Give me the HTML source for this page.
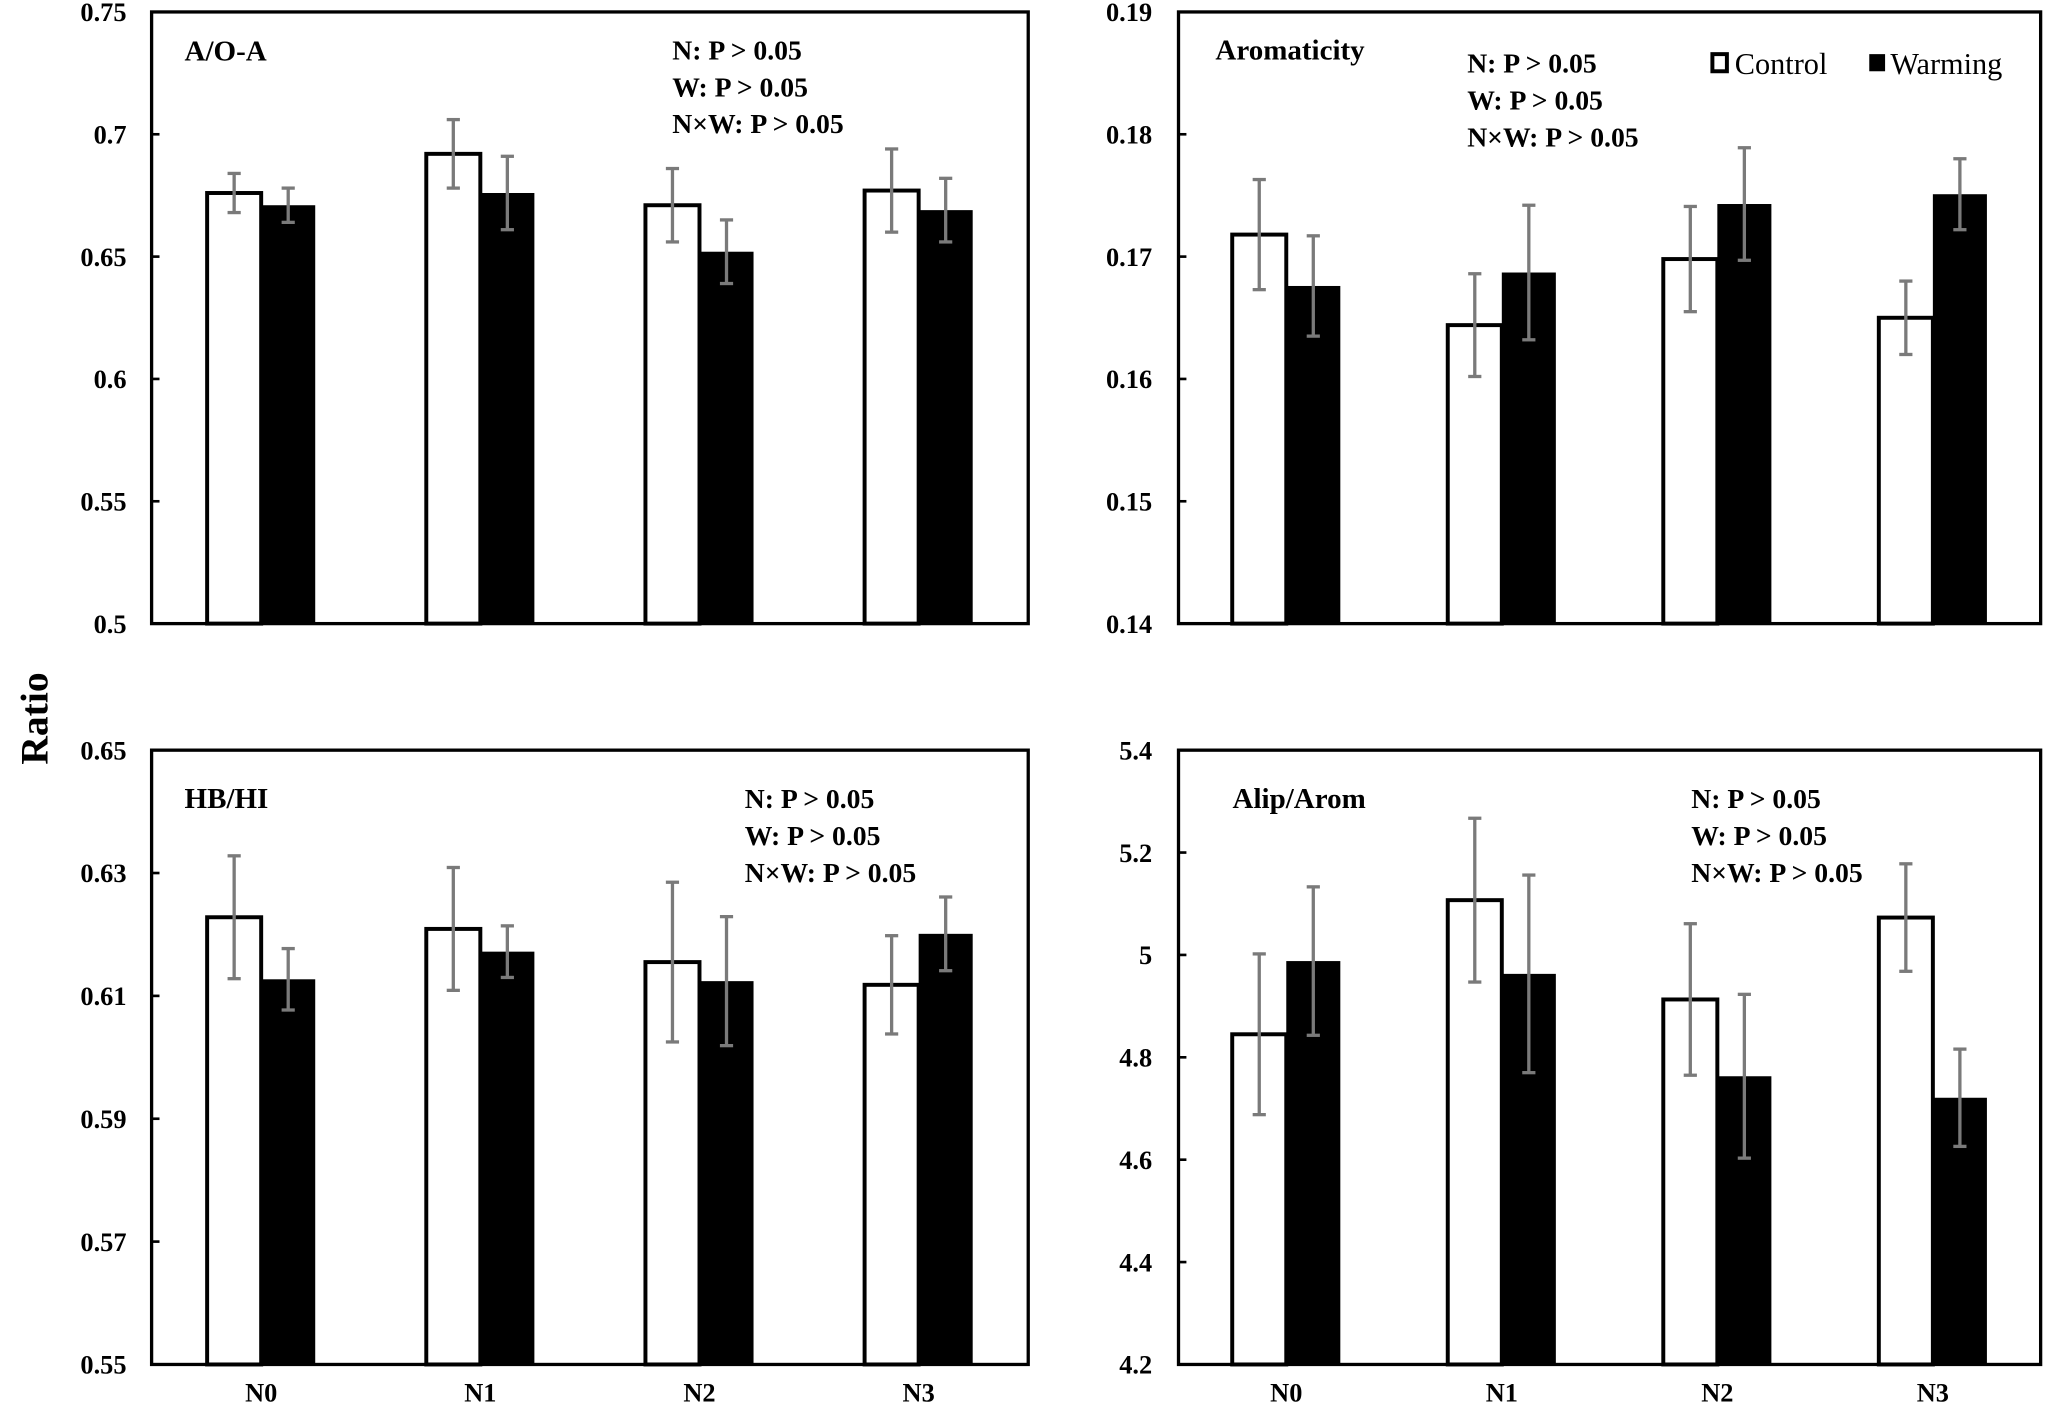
<!DOCTYPE html>
<html><head><meta charset="utf-8"><style>
html,body{margin:0;padding:0;background:#fff;}
svg{display:block;font-family:"Liberation Serif",serif;}
</style></head><body>
<svg id="chart" width="2067" height="1412" viewBox="0 0 1568 1071" xmlns="http://www.w3.org/2000/svg">
<text x="0" y="0" transform="translate(36,545) rotate(-90)" text-anchor="middle" font-size="30" font-weight="bold">Ratio</text>
</svg>
<script>
const categories = ["N0","N1","N2","N3"];
const aoaControl = [0.676,0.692,0.671,0.677];
const aoaControlErr = [0.008,0.014,0.015,0.017];
const aoaWarming = [0.671,0.676,0.652,0.669];
const aoaWarmingErr = [0.007,0.015,0.013,0.013];
const aromControl = [0.1718,0.1644,0.1698,0.1650];
const aromControlErr = [0.0045,0.0042,0.0043,0.0030];
const aromWarming = [0.1676,0.1687,0.1743,0.1751];
const aromWarmingErr = [0.0041,0.0055,0.0046,0.0029];
const hbControl = [0.6228,0.6209,0.6155,0.6118];
const hbControlErr = [0.0100,0.0100,0.0130,0.0080];
const hbWarming = [0.6127,0.6172,0.6124,0.6201];
const hbWarmingErr = [0.0050,0.0042,0.0105,0.0060];
const alipControl = [4.845,5.107,4.913,5.073];
const alipControlErr = [0.157,0.160,0.148,0.105];
const alipWarming = [4.988,4.963,4.763,4.721];
const alipWarmingErr = [0.145,0.193,0.160,0.095];
const ticksAoa = ["0.5","0.55","0.6","0.65","0.7","0.75"];
const ticksArom = ["0.14","0.15","0.16","0.17","0.18","0.19"];
const ticksHb = ["0.55","0.57","0.59","0.61","0.63","0.65"];
const ticksAlip = ["4.2","4.4","4.6","4.8","5","5.2","5.4"];

const NS="http://www.w3.org/2000/svg";
const svg=document.getElementById('chart');
function mk(tag,attrs,parent){const e=document.createElementNS(NS,tag);for(const k in attrs)e.setAttribute(k,attrs[k]);(parent||svg).appendChild(e);return e;}

function panel(cfg){
  const g=mk('g',{});
  
  
  const x0=cfg.x0,x1=cfg.x1,y0=cfg.y0,y1=cfg.y1;
  const ticks=cfg.ticks.map(Number);
  const vmin=ticks[0],vmax=ticks[ticks.length-1];
  const yS=v=>y1-(v-vmin)/(vmax-vmin)*(y1-y0);
  const bw=(x1-x0)/categories.length;
  const xC=i=>x0+bw*(i+0.5);
  const barW=41;
  cfg.ticks.forEach(t=>{
    const tx=mk('text',{x:cfg.lx,y:yS(Number(t))+7,'text-anchor':'end','font-size':'20','font-weight':'bold'},g);
    tx.textContent=t;
    
    
    const tm=mk('line',{x1:x0,x2:x0+6,y1:yS(Number(t)),y2:yS(Number(t)),stroke:'#000','stroke-width':2},g);
    
    
  });
  categories.forEach((c,i)=>{
    const cx=xC(i);
    const rc=mk('rect',{x:cx-barW,y:yS(cfg.c[i]),width:barW,height:y1-yS(cfg.c[i]),fill:'#fff',stroke:'#000','stroke-width':3},g);
    
    
    const rw=mk('rect',{x:cx,y:yS(cfg.w[i]),width:barW,height:y1-yS(cfg.w[i]),fill:'#000'},g);
    
    
    [[cx-barW/2,cfg.c[i],cfg.ce[i],'control'],[cx+barW/2,cfg.w[i],cfg.we[i],'warming']].forEach(([ex,v,e,s])=>{
      const eg=mk('g',{stroke:'#7a7a7a','stroke-width':2.5},g);
      
      
      mk('line',{x1:ex,x2:ex,y1:yS(v+e),y2:yS(v-e)},eg);
      mk('line',{x1:ex-5,x2:ex+5,y1:yS(v+e),y2:yS(v+e)},eg);
      mk('line',{x1:ex-5,x2:ex+5,y1:yS(v-e),y2:yS(v-e)},eg);
    });
    if(cfg.xlabels){
      const t=mk('text',{x:cx,y:1063,'text-anchor':'middle','font-size':'20','font-weight':'bold'},g);
      t.textContent=c;
      
      
    }
  });
  const fr=mk('rect',{x:x0,y:y0,width:x1-x0,height:y1-y0,fill:'none',stroke:'#000','stroke-width':2.5},g);
  
  
  const ti=mk('text',{x:cfg.tx,y:cfg.ty,'font-size':'22','font-weight':'bold'},g);
  ti.textContent=cfg.title;
  
  
  ["N: P > 0.05","W: P > 0.05","N\u00d7W: P > 0.05"].forEach((s,k)=>{
    const t=mk('text',{x:cfg.sx,y:cfg.sy+k*28,'font-size':'21','font-weight':'bold'},g);
    t.textContent=s;
    
    
  });
}
panel({name:'panel-aoa',x0:115,x1:780,y0:9,y1:473,lx:96,ticks:ticksAoa,c:aoaControl,ce:aoaControlErr,w:aoaWarming,we:aoaWarmingErr,title:'A/O-A',tx:140,ty:46,sx:510,sy:45});
panel({name:'panel-aromaticity',x0:894,x1:1548,y0:9,y1:473,lx:874,ticks:ticksArom,c:aromControl,ce:aromControlErr,w:aromWarming,we:aromWarmingErr,title:'Aromaticity',tx:922,ty:45,sx:1113,sy:55});
panel({name:'panel-hb-hi',x0:115,x1:780,y0:569,y1:1035,lx:96,ticks:ticksHb,c:hbControl,ce:hbControlErr,w:hbWarming,we:hbWarmingErr,title:'HB/HI',tx:140,ty:613,sx:565,sy:613,xlabels:true});
panel({name:'panel-alip-arom',x0:894,x1:1548,y0:569,y1:1035,lx:874,ticks:ticksAlip,c:alipControl,ce:alipControlErr,w:alipWarming,we:alipWarmingErr,title:'Alip/Arom',tx:935,ty:613,sx:1283,sy:613,xlabels:true});

const lg=mk('g',{});


const l1=mk('rect',{x:1299,y:41,width:11,height:13,fill:'#fff',stroke:'#000','stroke-width':3},lg);


const lt1=mk('text',{x:1316,y:56,'font-size':'23'},lg);
lt1.textContent='Control';


const l2=mk('rect',{x:1418,y:41,width:12,height:13,fill:'#000'},lg);


const lt2=mk('text',{x:1434,y:56,'font-size':'23'},lg);
lt2.textContent='Warming';


</script>
</body></html>
